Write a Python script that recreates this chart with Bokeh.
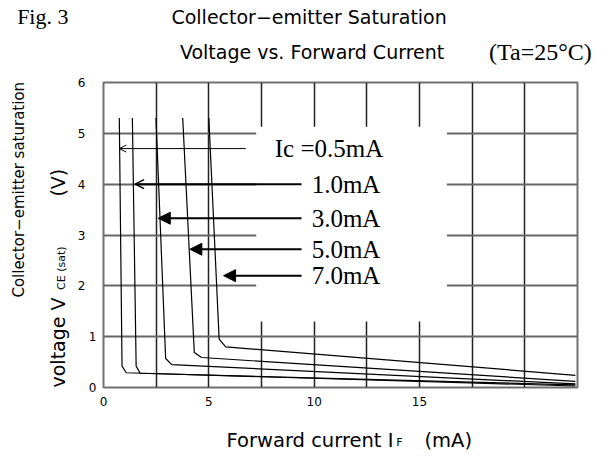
import math
from bokeh.plotting import figure
from bokeh.models import Range1d, FixedTicker, Label, Arrow, OpenHead, NormalHead, LinearAxis
from bokeh.embed import file_html
from bokeh.resources import INLINE

# ---- data ----
ic_labels = ["Ic =0.5mA", "1.0mA", "3.0mA", "5.0mA", "7.0mA"]
if_05 = [0.75, 0.88, 1.08, 22.4]
vce_05 = [5.3, 0.42, 0.29, 0.03]
if_10 = [1.37, 1.55, 1.74, 22.4]
vce_10 = [5.3, 0.42, 0.28, 0.05]
if_30 = [2.49, 2.95, 3.24, 22.4]
vce_30 = [5.3, 0.57, 0.45, 0.07]
if_50 = [3.76, 4.31, 4.66, 22.4]
vce_50 = [5.3, 0.69, 0.59, 0.12]
if_70 = [5.0, 5.49, 5.8, 22.4]
vce_70 = [5.3, 0.95, 0.80, 0.24]
x_tick_labels = [0, 5, 10, 15]
y_tick_low = [0, 1]
y_tick_high = [2, 3, 4, 5, 6]
x_grid = [2.5, 5, 7.5, 10, 12.5, 15, 17.5, 20]
y_grid = [1, 2, 3, 4, 5]

# annotation positions (arrow tips point at the curves)
arrow_tail = [6.75, 9.4, 9.4, 9.4, 9.4]
arrow_tip = [0.75, 1.5, 2.6, 4.1, 5.7]
arrow_v = [4.7, 4.0, 3.33, 2.72, 2.2]
label_x = [8.13, 9.88, 9.88, 9.88, 9.88]

SANS = "DejaVu Sans"
SERIF = "Liberation Serif"
NB = "\u00a0"

p = figure(width=613, height=464, output_backend="svg", toolbar_location=None,
           x_range=Range1d(0, 22.5), y_range=Range1d(0, 6),
           min_border_left=103, min_border_right=36, min_border_top=82, min_border_bottom=77)
p.background_fill_color = "white"
p.border_fill_color = "white"
p.outline_line_color = "#707070"
p.outline_line_width = 2

yaxis_hi = LinearAxis()
p.add_layout(yaxis_hi, "left")
for ax in (p.xaxis[0], p.yaxis[0], yaxis_hi):
    ax.axis_line_color = None
    ax.major_tick_line_color = None
    ax.minor_tick_line_color = None
    ax.major_tick_out = 0
    ax.major_tick_in = 0
    ax.minor_tick_out = 0
    ax.major_label_text_font = SANS
    ax.major_label_text_font_size = "12px"
    ax.major_label_text_color = "black"
p.xaxis[0].ticker = FixedTicker(ticks=x_tick_labels)
p.yaxis[0].ticker = FixedTicker(ticks=y_tick_low)
yaxis_hi.ticker = FixedTicker(ticks=y_tick_high)
p.xaxis[0].major_label_standoff = 9
p.yaxis[0].major_label_standoff = 7
yaxis_hi.major_label_standoff = 0

p.xgrid.ticker = FixedTicker(ticks=x_grid)
p.ygrid.ticker = FixedTicker(ticks=y_grid)
p.xgrid.grid_line_color = "#222222"
p.ygrid.grid_line_color = "#666666"
p.xgrid.grid_line_width = 1.5
p.ygrid.grid_line_width = 2

# white box behind the current labels interrupts the grid
p.quad(left=[7.25], right=[16.3], bottom=[1.3], top=[5.13], fill_color="white", line_color=None)

for xs, ys in [(if_05, vce_05), (if_10, vce_10), (if_30, vce_30), (if_50, vce_50), (if_70, vce_70)]:
    p.line(xs, ys, line_color="black", line_width=1.2)

for i in range(5):
    if i == 0:
        head = OpenHead(size=7, line_width=1, line_color="black")
        lw = 1
    elif i == 1:
        head = OpenHead(size=9, line_width=1.5, line_color="black")
        lw = 2
    else:
        head = NormalHead(size=12, fill_color="black", line_color="black", line_width=1)
        lw = 2
    p.add_layout(Arrow(x_start=arrow_tail[i], y_start=arrow_v[i], x_end=arrow_tip[i], y_end=arrow_v[i],
                       end=head, line_width=lw, line_color="black"))
    p.add_layout(Label(x=label_x[i], y=arrow_v[i], text=ic_labels[i], text_font=SERIF, text_color="black",
                       text_font_size="25px", text_baseline="middle", text_align="left"))


def outside(side, **kw):
    kw.setdefault("text_color", "black")
    p.add_layout(Label(**kw), side)


# titles
outside("above", x=9.76, y=7.29, text="Collector\u2212emitter Saturation", text_font=SANS,
        text_font_size="19px", text_align="center", text_baseline="middle")
outside("above", x=9.9, y=6.6, text="Voltage vs. Forward Current", text_font=SANS,
        text_font_size="19px", text_align="center", text_baseline="middle")
outside("above", x=18.3, y=6.6, text="(Ta=25\u00b0C)", text_font=SERIF,
        text_font_size="24px", text_align="left", text_baseline="middle")
outside("below", x=-4.1, y=7.3, text="Fig. 3", text_font=SERIF,
        text_font_size="22px", text_align="left", text_baseline="alphabetic")

# x axis label
outside("below", x=5.84, y=-1.04, text="Forward current I" + NB * 5 + "(mA)", text_font=SANS,
        text_font_size="19.5px", text_align="left", text_baseline="middle")
outside("right", x=13.9, y=-1.04, text="F", text_font=SANS, y_offset=-2,
        text_font_size="11px", text_align="left", text_baseline="middle")

# y axis label
outside("left", x=-4.03, y=3.89, text="Collector\u2212emitter saturation", text_font=SANS,
        text_font_size="15px", angle=math.pi / 2, text_align="center", text_baseline="middle")
outside("left", x=-2.16, y=4.03, text="(V)", text_font=SANS,
        text_font_size="19px", angle=math.pi / 2, text_align="center", text_baseline="middle")
outside("left", x=-2.16, y=0.0, text="voltage V", text_font=SANS,
        text_font_size="19px", angle=math.pi / 2, text_align="left", text_baseline="middle")
outside("right", x=-2.16, y=1.92, text="CE (sat)", text_font=SANS, x_offset=4,
        text_font_size="11px", angle=math.pi / 2, text_align="left", text_baseline="middle")

open("out.html", "w").write(file_html(p, INLINE))
